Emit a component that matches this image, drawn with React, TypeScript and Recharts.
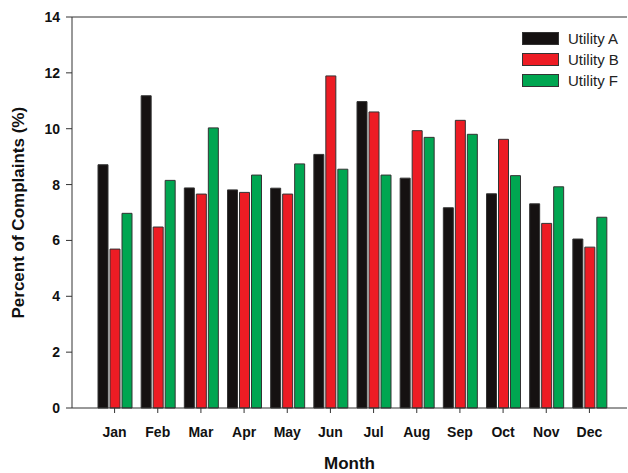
import React from "react";
import { BarChart, Bar, XAxis, YAxis, ReferenceLine } from "recharts";

const months = ["Jan", "Feb", "Mar", "Apr", "May", "Jun", "Jul", "Aug", "Sep", "Oct", "Nov", "Dec"];
const utilityA = [8.71, 11.18, 7.88, 7.81, 7.87, 9.08, 10.97, 8.23, 7.17, 7.67, 7.31, 6.05];
const utilityB = [5.69, 6.48, 7.66, 7.72, 7.66, 11.89, 10.6, 9.93, 10.3, 9.62, 6.61, 5.76];
const utilityF = [6.97, 8.15, 10.03, 8.34, 8.74, 8.55, 8.34, 9.69, 9.8, 8.32, 7.92, 6.83];
const yTicks = [0, 2, 4, 6, 8, 10, 12, 14];

const seriesInfo = [
  { key: "a", name: "Utility A", color: "#151111" },
  { key: "b", name: "Utility B", color: "#ed1c24" },
  { key: "f", name: "Utility F", color: "#00a651" },
];

const data = months.map((m, i) => ({
  month: m,
  a: utilityA[i],
  b: utilityB[i],
  f: utilityF[i],
}));

const FONT = "'Liberation Sans', Arial, sans-serif";

// legend sits inside the plot box, top right
const LegendBox = () => (
  <div
    style={{
      position: "absolute",
      left: 522,
      top: 28,
      fontFamily: FONT,
      fontSize: 15,
      color: "#222",
    }}
  >
    {seriesInfo.map((s) => (
      <div key={s.key} style={{ display: "flex", alignItems: "center", height: 21 }}>
        <div
          style={{
            width: 35,
            height: 11,
            background: s.color,
            border: "1px solid #333",
            marginRight: 9,
          }}
        />
        <span>{s.name}</span>
      </div>
    ))}
  </div>
);

export default function App() {
  return (
    <div style={{ position: "absolute", left: 0, top: 0, width: 628, height: 473, background: "#fff" }}>
      <BarChart
        width={628}
        height={473}
        data={data}
        margin={{ top: 17, right: 1, left: 0, bottom: 0 }}
        barSize={10}
        barGap={2}
      >
        <XAxis
          dataKey="month"
          height={65}
          padding={{ left: 21, right: 16 }}
          stroke="#333"
          tickSize={5}
          tickMargin={14}
          tick={{ fontFamily: FONT, fontSize: 14, fontWeight: "bold", fill: "#111" }}
          label={{
            value: "Month",
            position: "insideBottom",
            offset: 0,
            dy: -4,
            style: { fontFamily: FONT, fontSize: 17, fontWeight: "bold", fill: "#111" },
          }}
        />
        <YAxis
          width={72}
          domain={[0, 14]}
          ticks={yTicks}
          interval={0}
          stroke="#333"
          tickSize={6}
          tickMargin={6}
          tick={{ fontFamily: FONT, fontSize: 14, fontWeight: "bold", fill: "#111" }}
          label={{
            value: "Percent of Complaints (%)",
            angle: -90,
            position: "insideLeft",
            offset: 18,
            dy: 106,
            style: { fontFamily: FONT, fontSize: 17, fontWeight: "bold", fill: "#111" },
          }}
        />
        <ReferenceLine y={14} stroke="#333" strokeWidth={1} ifOverflow="extendDomain" />
        {seriesInfo.map((s) => (
          <Bar
            key={s.key}
            dataKey={s.key}
            name={s.name}
            fill={s.color}
            stroke="#333"
            strokeWidth={1}
            isAnimationActive={false}
          />
        ))}
      </BarChart>
      <LegendBox />
    </div>
  );
}
